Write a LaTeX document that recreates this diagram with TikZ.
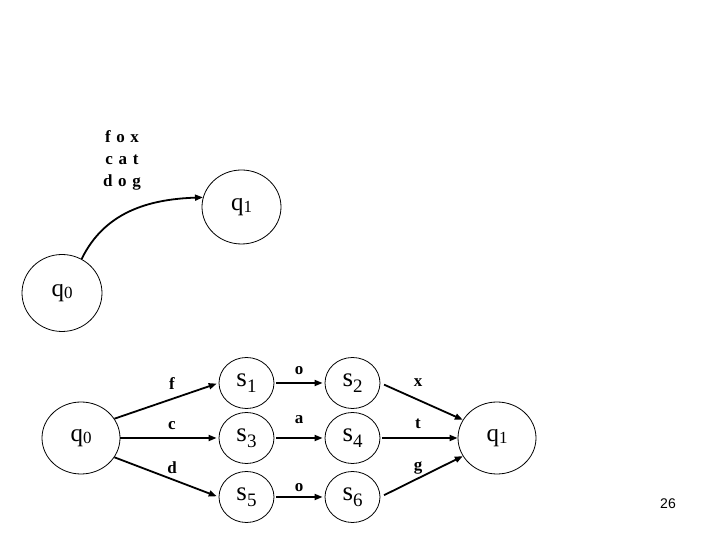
\documentclass[tikz,border=0pt]{standalone}
\usepackage{fontspec}
\setmainfont{Liberation Serif}
\newfontfamily\pagenumfont{Liberation Sans}
\usetikzlibrary{arrows.meta,shapes.geometric}

\newcommand{\qst}[1]{q\raisebox{-2pt}{\fontsize{17}{17}\selectfont #1}}
\newcommand{\sst}[1]{s\raisebox{-6pt}{\fontsize{19}{19}\selectfont #1}}

\begin{document}
\begin{tikzpicture}[
    x=1pt, y=1pt,
    bigstate/.style={draw, ellipse, line width=0.8pt, inner sep=0pt, minimum width=79pt, minimum height=74pt, font=\fontsize{25}{25}\selectfont},
    smallstate/.style={draw, ellipse, line width=0.8pt, inner sep=0pt, minimum width=55pt, minimum height=51pt, font=\fontsize{27}{27}\selectfont},
    lbl/.style={anchor=base, inner sep=0pt, font=\bfseries\fontsize{17}{17}\selectfont},
    arr/.style={-{Triangle[length=8pt,width=6pt]}, line width=1.8pt, shorten <=2pt, shorten >=2pt}
]
\useasboundingbox (0,0) rectangle (720,540);
% upper part
\node[bigstate, minimum width=80pt, minimum height=77pt] (q0top) at (62,247) {\qst{0}};
\node[bigstate] (q1top) at (241.5,333) {\qst{1}};
\node[lbl, anchor=north, align=center, font=\bfseries\fontsize{17}{22}\selectfont] (words) at (122,410) {f\,\,o\,\,x\\c\,\,a\,\,t\\d\,\,o\,\,g};
\draw[arr, shorten <=0pt, shorten >=0pt] (q0top.60) to[out=64, in=182] (q1top.166);
% lower part
\node[bigstate, minimum width=78pt, minimum height=72pt] (q0) at (81,102) {\qst{0}};
\node[smallstate] (s1) at (246.5,157) {\sst{1}};
\node[smallstate] (s3) at (246.5,102) {\sst{3}};
\node[smallstate] (s5) at (246.5,43) {\sst{5}};
\node[smallstate] (s2) at (352.5,157) {\sst{2}};
\node[smallstate] (s4) at (352.5,102) {\sst{4}};
\node[smallstate] (s6) at (352.5,43) {\sst{6}};
\node[bigstate, minimum width=78pt, minimum height=72pt] (q1) at (497,102) {\qst{1}};
\node[lbl] (lf) at (172,150) {f};
\node[lbl] (lc) at (172,110) {c};
\node[lbl] (ld) at (172,66) {d};
\node[lbl] (lo1) at (299,165) {o};
\node[lbl] (la) at (299,116) {a};
\node[lbl] (lo2) at (299,48) {o};
\node[lbl] (lx) at (418,153) {x};
\node[lbl] (lt) at (418,111) {t};
\node[lbl] (lg) at (418,69) {g};
\draw[arr, shorten <=0pt] (q0.30) -- (s1.west);
\draw[arr, shorten <=0pt] (q0) -- (s3);
\draw[arr, shorten <=0pt] (q0.-30) -- (s5.west);
\draw[arr] (s1) -- (s2);
\draw[arr] (s3) -- (s4);
\draw[arr] (s5) -- (s6);
\draw[arr, shorten <=4pt, shorten >=0pt] (s2.east) -- (q1.152);
\draw[arr, shorten >=0pt] (s4) -- (q1);
\draw[arr, shorten <=4pt, shorten >=0pt] (s6.east) -- (q1.208);
\node[font=\pagenumfont\fontsize{14}{14}\selectfont] (pagenum) at (668,36) {26};
\end{tikzpicture}
\end{document}
